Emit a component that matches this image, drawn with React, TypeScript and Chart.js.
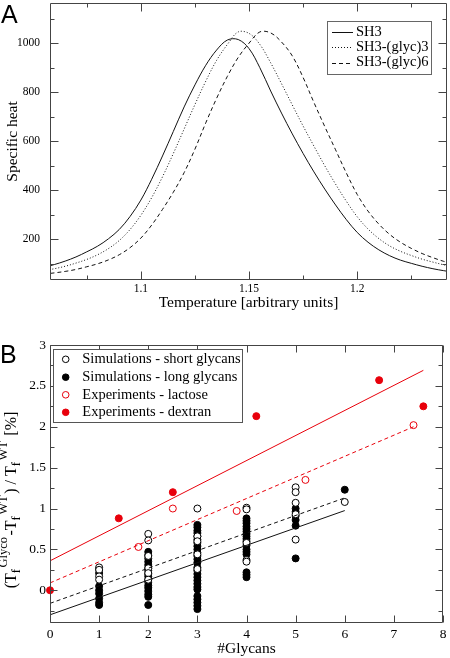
import React, { useEffect, useRef } from "react";
import { Chart, registerables } from "chart.js";

Chart.register(...registerables);

const SERIF = '"Liberation Serif", "Times New Roman", serif';
const SANS = '"Liberation Sans", Arial, sans-serif';
const RED = "#e8000b";
const INK = "#000";
const FRAME = "#444";

// ---------------- Panel A : specific heat curves ----------------
const TEMPERATURE = [
  1.055, 1.06, 1.065, 1.07, 1.075, 1.08, 1.085, 1.09, 1.095, 1.1,
  1.105, 1.11, 1.115, 1.12, 1.125, 1.13, 1.135, 1.14, 1.145, 1.15,
  1.155, 1.16, 1.165, 1.17, 1.175, 1.18, 1.185, 1.19, 1.195, 1.2,
  1.205, 1.21, 1.215, 1.22, 1.225, 1.23, 1.235, 1.24, 1.245,
];
const CP_SH3 = [
  85, 97, 111, 128, 149, 172, 202, 240, 293, 360,
  445, 540, 640, 740, 830, 910, 972, 1013, 1015, 978,
  900, 805, 715, 630, 550, 475, 405, 340, 280, 228,
  188, 157, 133, 115, 102, 90, 80, 72, 65,
];
const CP_GLYC3 = [
  72, 80, 90, 103, 118, 137, 162, 195, 240, 298,
  370, 455, 550, 650, 750, 845, 930, 995, 1046, 1040,
  995, 920, 835, 748, 662, 580, 500, 425, 355, 292,
  242, 203, 173, 151, 134, 119, 107, 96, 87,
];
const CP_GLYC6 = [
  58, 63, 69, 77, 88, 100, 116, 137, 166, 205,
  258, 322, 392, 472, 568, 675, 775, 865, 942, 1000,
  1046, 1042, 1005, 948, 860, 758, 660, 565, 470, 383,
  315, 262, 220, 188, 163, 142, 125, 110, 98,
];
const A_SERIES_LABELS = ["SH3", "SH3-(glyc)3", "SH3-(glyc)6"];
const A_X_MAJOR = [1.1, 1.15, 1.2];
const A_X_MINOR = [1.075, 1.125, 1.175, 1.225];
const A_Y_MAJOR = [200, 400, 600, 800, 1000];
const A_Y_MINOR = [100, 300, 500, 700, 900, 1100];
const A_X_RANGE = [1.058, 1.2415];
const A_Y_RANGE = [34, 1164];

// ---------------- Panel B : stabilisation vs number of glycans ----------------
const GLYCAN_COUNTS = [1, 2, 3, 4, 5, 6];
const SIM_SHORT = [
  [0.28, 0.25, 0.17, 0.13],
  [0.69, 0.61, 0.42, 0.27, 0.21, 0.13],
  [1.0, 0.66, 0.6, 0.44, 0.26],
  [1.01, 0.99, 0.58, 0.37, 0.35],
  [1.26, 1.2, 1.07, 0.93, 0.62],
  [1.08],
];
const SIM_LONG = [
  [0.26, 0.21, 0.05, 0.0, -0.04, -0.1, -0.15, -0.18],
  [0.47, 0.43, 0.39, 0.35, 0.31, 0.27, 0.24, 0.2, 0.17, 0.13, 0.1, 0.06, 0.03, -0.01, -0.05, -0.08, -0.18],
  [0.8, 0.77, 0.73, 0.7, 0.66, 0.62, 0.58, 0.54, 0.5, 0.46, 0.42, 0.38, 0.34, 0.28, 0.24, 0.2, 0.16, 0.12, 0.08, 0.04, 0.01, -0.07, -0.11, -0.15, -0.19, -0.23],
  [0.88, 0.85, 0.82, 0.78, 0.75, 0.72, 0.69, 0.66, 0.63, 0.6, 0.55, 0.5, 0.47, 0.44, 0.22, 0.19, 0.16],
  [1.0, 0.96, 0.91, 0.86, 0.79, 0.39],
  [1.23],
];
const LACTOSE_N = [1.8, 2.5, 3.8, 5.2, 7.4];
const LACTOSE_DT = [0.53, 1.0, 0.97, 1.35, 2.02];
const DEXTRAN_N = [0, 1.4, 2.5, 4.2, 6.7, 7.6];
const DEXTRAN_DT = [0.0, 0.88, 1.2, 2.13, 2.57, 2.25];
const FIT_SHORT_N = [0, 6];
const FIT_SHORT_DT = [-0.16, 1.13];
const FIT_LONG_N = [0, 6];
const FIT_LONG_DT = [-0.3, 0.975];
const FIT_LACTOSE_N = [0, 7.4];
const FIT_LACTOSE_DT = [0.09, 2.0];
const FIT_DEXTRAN_N = [0, 7.6];
const FIT_DEXTRAN_DT = [0.36, 2.69];
const B_SERIES_LABELS = [
  "Simulations - short glycans",
  "Simulations - long glycans",
  "Experiments - lactose",
  "Experiments - dextran",
];
const B_X_MAJOR = [0, 1, 2, 3, 4, 5, 6, 7, 8];
const B_Y_MAJOR = [0, 0.5, 1, 1.5, 2, 2.5, 3];
const B_Y_MINOR = [-0.25, 0.25, 0.75, 1.25, 1.75, 2.25, 2.75];
const B_X_RANGE = [0, 8];
const B_Y_RANGE = [-0.4, 3];

// ---------------- helpers ----------------
const zip = (xs: number[], ys: number[]) => xs.map((x, i) => ({ x, y: ys[i] }));

function drawFrameAndTicks(
  chart: any,
  xMajor: number[],
  xMinor: number[],
  yMajor: number[],
  yMinor: number[],
  majLen: number,
  minLen: number
) {
  const { ctx, chartArea: ca, scales } = chart;
  const sx = scales.x;
  const sy = scales.y;
  const L = Math.round(ca.left) + 0.5;
  const R = Math.round(ca.right) - 0.5;
  const T = Math.round(ca.top) + 0.5;
  const B = Math.round(ca.bottom) - 0.5;
  ctx.save();
  ctx.strokeStyle = FRAME;
  ctx.lineWidth = 1;
  ctx.setLineDash([]);
  ctx.beginPath();
  ctx.rect(L, T, R - L, B - T);
  const xt = (v: number, len: number) => {
    const p = Math.round(sx.getPixelForValue(v)) + 0.5;
    ctx.moveTo(p, B);
    ctx.lineTo(p, B - len);
    ctx.moveTo(p, T);
    ctx.lineTo(p, T + len);
  };
  const yt = (v: number, len: number) => {
    const p = Math.round(sy.getPixelForValue(v)) + 0.5;
    ctx.moveTo(L, p);
    ctx.lineTo(L + len, p);
    ctx.moveTo(R, p);
    ctx.lineTo(R - len, p);
  };
  xMajor.forEach((v) => xt(v, majLen));
  xMinor.forEach((v) => xt(v, minLen));
  yMajor.forEach((v) => yt(v, majLen));
  yMinor.forEach((v) => yt(v, minLen));
  ctx.stroke();
  ctx.restore();
}

const panelAPlugin = {
  id: "panelA",
  afterDraw(chart: any) {
    const { ctx, chartArea: ca, scales } = chart;
    drawFrameAndTicks(chart, A_X_MAJOR, A_X_MINOR, A_Y_MAJOR, A_Y_MINOR, 8, 4);
    ctx.save();
    ctx.fillStyle = INK;
    // tick labels
    ctx.font = `11.5px ${SERIF}`;
    ctx.textAlign = "right";
    ctx.textBaseline = "middle";
    A_Y_MAJOR.forEach((v) => ctx.fillText(String(v), ca.left - 10, scales.y.getPixelForValue(v)));
    ctx.textAlign = "center";
    A_X_MAJOR.forEach((v) => ctx.fillText(String(v), scales.x.getPixelForValue(v), ca.bottom + 9));
    // axis titles
    ctx.font = `15.5px ${SERIF}`;
    ctx.textBaseline = "alphabetic";
    ctx.fillText("Temperature [arbitrary units]", (ca.left + ca.right) / 2, 307);
    ctx.save();
    ctx.translate(17.3, (ca.top + ca.bottom) / 2);
    ctx.rotate(-Math.PI / 2);
    ctx.fillText("Specific heat", 0, 0);
    ctx.restore();
    // panel letter
    ctx.font = `25px ${SANS}`;
    ctx.textAlign = "left";
    ctx.fillText("A", 1, 23.3);
    // legend
    ctx.strokeStyle = "#666";
    ctx.lineWidth = 1;
    ctx.strokeRect(327.5, 21.5, 104, 53);
    const rows = [31.7, 47, 62.5];
    const dashes = [[], [1, 2], [4, 3]];
    ctx.font = `14.5px ${SERIF}`;
    ctx.textBaseline = "middle";
    rows.forEach((ry, i) => {
      ctx.beginPath();
      ctx.strokeStyle = "#111";
      ctx.setLineDash(dashes[i]);
      ctx.moveTo(332, Math.round(ry) + 0.5);
      ctx.lineTo(353, Math.round(ry) + 0.5);
      ctx.stroke();
      ctx.setLineDash([]);
      ctx.fillText(A_SERIES_LABELS[i], 356, ry);
    });
    ctx.restore();
  },
};

const panelBPlugin = {
  id: "panelB",
  afterDraw(chart: any) {
    const { ctx, chartArea: ca, scales } = chart;
    drawFrameAndTicks(chart, B_X_MAJOR, [], B_Y_MAJOR, B_Y_MINOR, 7, 4);
    ctx.save();
    ctx.fillStyle = INK;
    ctx.font = `13.5px ${SERIF}`;
    ctx.textAlign = "right";
    ctx.textBaseline = "middle";
    B_Y_MAJOR.forEach((v) => ctx.fillText(String(v), ca.left - 4, scales.y.getPixelForValue(v)));
    ctx.textAlign = "center";
    B_X_MAJOR.forEach((v) => ctx.fillText(String(v), scales.x.getPixelForValue(v), ca.bottom + 11));
    // x title
    ctx.font = `15.5px ${SERIF}`;
    ctx.textBaseline = "alphabetic";
    ctx.fillText("#Glycans", (ca.left + ca.right) / 2, 322.5);
    // y title with sub/superscripts
    const parts: [string, string][] = [
      ["(T", "m"], ["f", "sub"], ["Glyco", "sup"], ["-T", "m"], ["f", "sub"], ["WT", "sup"],
      [")", "m"], [" / T", "m"], ["f", "sub"], ["WT", "sup"], [" [%]", "m"],
    ];
    const fontFor = (k: string) => (k === "m" ? `16px ${SERIF}` : `12.5px ${SERIF}`);
    const gapAfter = (k: string) => (k === "m" ? 0 : 1.5);
    let total = 0;
    const widths = parts.map(([t, k]) => {
      ctx.font = fontFor(k);
      const w = ctx.measureText(t).width + gapAfter(k);
      total += w;
      return w;
    });
    ctx.save();
    ctx.translate(15.5, 170);
    ctx.rotate(-Math.PI / 2);
    ctx.textAlign = "left";
    let pos = -total / 2;
    parts.forEach(([t, k], i) => {
      ctx.font = fontFor(k);
      const dy = k === "sub" ? 4 : k === "sup" ? -8.5 : 0;
      ctx.fillText(t, pos, dy);
      pos += widths[i];
    });
    ctx.restore();
    // panel letter
    ctx.font = `25px ${SANS}`;
    ctx.textAlign = "left";
    ctx.fillText("B", 0, 32.7);
    // legend
    ctx.strokeStyle = "#555";
    ctx.lineWidth = 1;
    ctx.fillStyle = "#fff";
    ctx.fillRect(53.5, 19.5, 189, 73);
    ctx.strokeRect(53.5, 19.5, 189, 73);
    const rows = [29.3, 47.2, 64.8, 82.3];
    const styles = [
      { stroke: "#000", fill: "#fff" },
      { stroke: "#000", fill: "#000" },
      { stroke: RED, fill: "#fff" },
      { stroke: RED, fill: RED },
    ];
    ctx.font = `14.5px ${SERIF}`;
    ctx.textBaseline = "middle";
    rows.forEach((ry, i) => {
      ctx.beginPath();
      ctx.arc(65.7, ry, 3.3, 0, Math.PI * 2);
      ctx.fillStyle = styles[i].fill;
      ctx.fill();
      ctx.strokeStyle = styles[i].stroke;
      ctx.stroke();
      ctx.fillStyle = INK;
      ctx.fillText(B_SERIES_LABELS[i], 82.3, ry);
    });
    ctx.restore();
  },
};

function baseScale(range: number[], fit: (s: any) => void) {
  return {
    type: "linear" as const,
    min: range[0],
    max: range[1],
    ticks: { display: false },
    grid: { display: false },
    border: { display: false },
    afterFit: fit,
  };
}

function PanelA() {
  const ref = useRef<HTMLCanvasElement | null>(null);
  useEffect(() => {
    if (!ref.current) return;
    const line = (ys: number[], dash: number[], label: string) => ({
      label,
      data: zip(TEMPERATURE, ys),
      showLine: true,
      borderColor: "#111",
      borderWidth: 1,
      borderDash: dash,
      pointRadius: 0,
      tension: 0.35,
      fill: false,
    });
    const chart = new Chart(ref.current, {
      type: "scatter",
      data: {
        datasets: [
          line(CP_SH3, [], A_SERIES_LABELS[0]),
          line(CP_GLYC3, [1, 2], A_SERIES_LABELS[1]),
          line(CP_GLYC6, [4, 3], A_SERIES_LABELS[2]),
        ],
      },
      options: {
        animation: false,
        responsive: false,
        devicePixelRatio: 1,
        layout: { padding: { left: 0, right: 3, top: 3, bottom: 0 } },
        plugins: { legend: { display: false }, tooltip: { enabled: false } },
        scales: {
          x: baseScale(A_X_RANGE, (s: any) => { s.height = 50; }),
          y: baseScale(A_Y_RANGE, (s: any) => { s.width = 50; }),
        },
      },
      plugins: [panelAPlugin],
    } as any);
    return () => chart.destroy();
  }, []);
  return (
    <canvas
      ref={ref}
      width={450}
      height={330}
      style={{ position: "absolute", left: 0, top: 0, width: 450, height: 330 }}
    />
  );
}

function PanelB() {
  const ref = useRef<HTMLCanvasElement | null>(null);
  useEffect(() => {
    if (!ref.current) return;
    const fit = (xs: number[], ys: number[], color: string, dash: number[]) => ({
      data: zip(xs, ys),
      showLine: true,
      borderColor: color,
      borderWidth: 1,
      borderDash: dash,
      pointRadius: 0,
      fill: false,
    });
    const pts = (cols: number[][]) =>
      cols.flatMap((vals, i) => vals.map((v) => ({ x: GLYCAN_COUNTS[i], y: v })));
    const marks = (data: any[], stroke: string, fill: string, label: string, clip: any) => ({
      label,
      data,
      pointRadius: 3.5,
      pointBorderWidth: 1,
      pointBorderColor: stroke,
      pointBackgroundColor: fill,
      showLine: false,
      clip,
    });
    const chart = new Chart(ref.current, {
      type: "scatter",
      data: {
        datasets: [
          fit(FIT_DEXTRAN_N, FIT_DEXTRAN_DT, RED, []),
          fit(FIT_LACTOSE_N, FIT_LACTOSE_DT, RED, [4, 3]),
          fit(FIT_SHORT_N, FIT_SHORT_DT, "#111", [4, 3]),
          fit(FIT_LONG_N, FIT_LONG_DT, "#111", []),
          marks(pts(SIM_SHORT), "#000", "#fff", B_SERIES_LABELS[0], undefined),
          marks(pts(SIM_LONG), "#000", "#000", B_SERIES_LABELS[1], undefined),
          marks(zip(LACTOSE_N, LACTOSE_DT), RED, "#fff", B_SERIES_LABELS[2], undefined),
          marks(zip(DEXTRAN_N, DEXTRAN_DT), RED, RED, B_SERIES_LABELS[3], false),
        ],
      },
      options: {
        animation: false,
        responsive: false,
        devicePixelRatio: 1,
        layout: { padding: { left: 0, right: 7, top: 15, bottom: 0 } },
        plugins: { legend: { display: false }, tooltip: { enabled: false } },
        scales: {
          x: baseScale(B_X_RANGE, (s: any) => { s.height = 35; }),
          y: baseScale(B_Y_RANGE, (s: any) => { s.width = 50; }),
        },
      },
      plugins: [panelBPlugin],
    } as any);
    return () => chart.destroy();
  }, []);
  return (
    <canvas
      ref={ref}
      width={450}
      height={328}
      style={{ position: "absolute", left: 0, top: 330, width: 450, height: 328 }}
    />
  );
}

export default function App() {
  return (
    <div style={{ position: "absolute", left: 0, top: 0, width: 450, height: 658, background: "#fff" }}>
      <PanelA />
      <PanelB />
    </div>
  );
}
